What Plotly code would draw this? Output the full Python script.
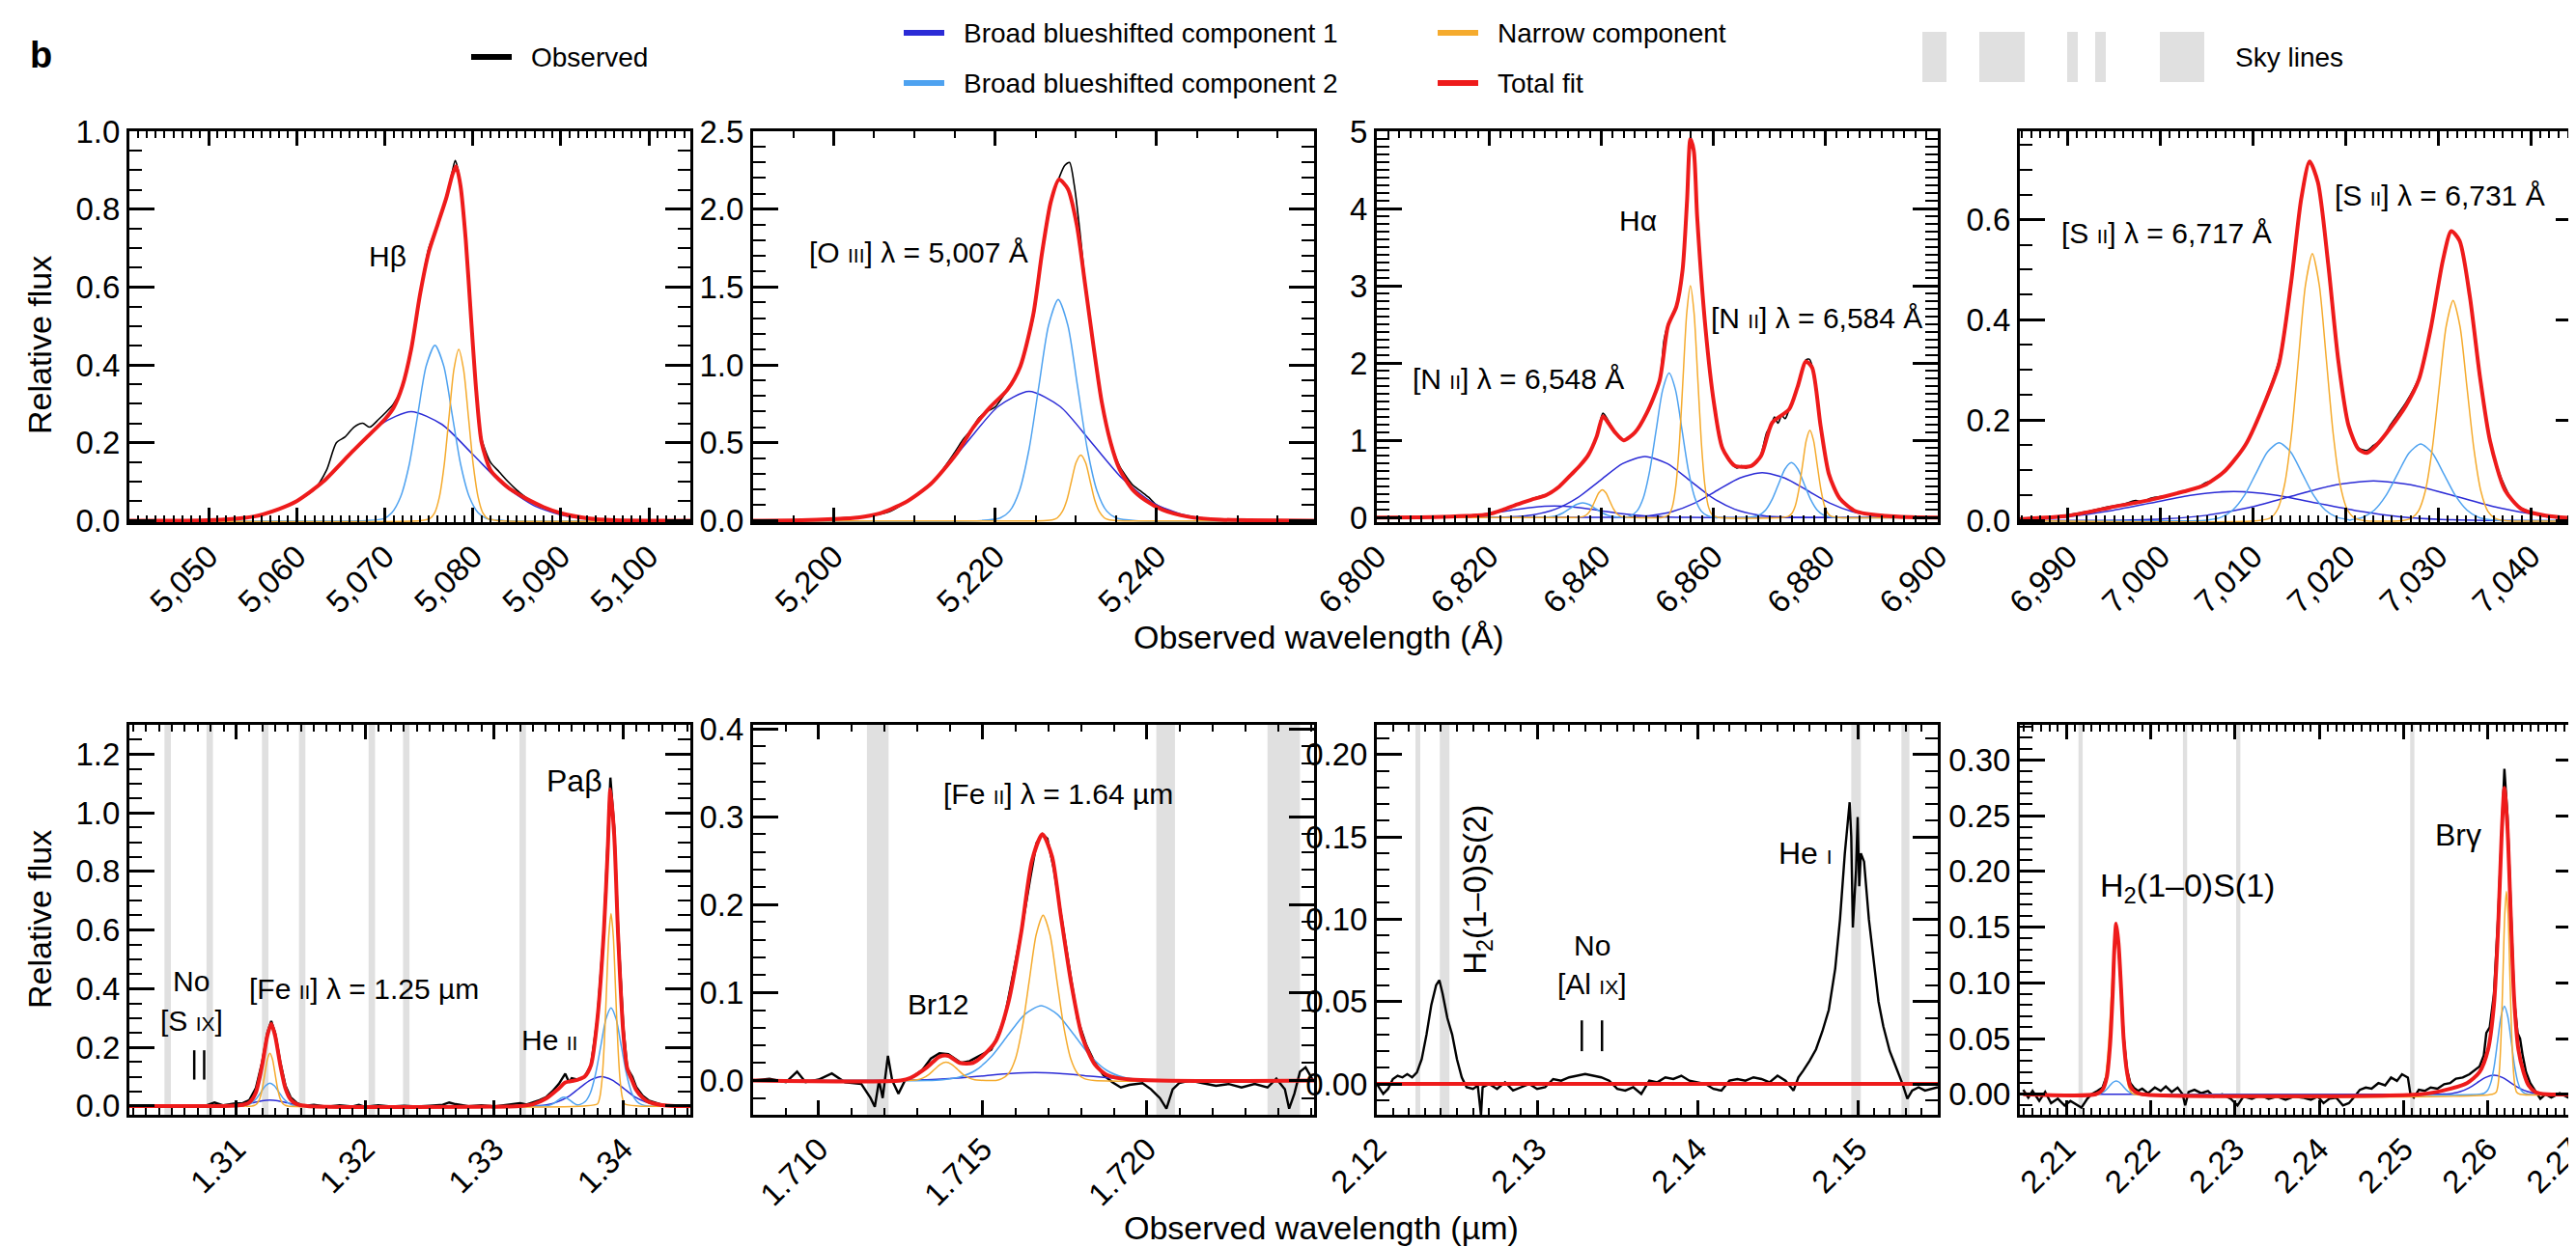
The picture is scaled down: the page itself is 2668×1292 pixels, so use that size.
import plotly.graph_objects as go

W, H = 2668, 1292
FONT = "Liberation Sans, Arial, Helvetica, sans-serif"
C_OBS = "#000000"
C_B1 = "#2b2bd6"
C_B2 = "#4ea2f0"
C_NAR = "#f5ab2e"
C_FIT = "#ee1b1b"
C_SKY = "#e0e0e0"

# ---------------- tick labels ----------------
p1_xticks = [5050, 5060, 5070, 5080, 5090, 5100]
p2_xticks = [5200, 5220, 5240]
p3_xticks = [6800, 6820, 6840, 6860, 6880, 6900]
p4_xticks = [6990, 7000, 7010, 7020, 7030, 7040]
p5_xticks = [1.31, 1.32, 1.33, 1.34]
p6_xticks = [1.710, 1.715, 1.720]
p7_xticks = [2.12, 2.13, 2.14, 2.15]
p8_xticks = [2.21, 2.22, 2.23, 2.24, 2.25, 2.26, 2.27]

# ---------------- Panel 1: H-beta ----------------
p1_obs_x = [5041, 5050, 5055, 5058, 5060, 5062, 5063.4, 5064.5, 5065.5, 5066.5, 5067.5, 5068.3, 5069.3, 5070.2, 5071, 5072, 5073, 5074, 5075, 5076, 5077, 5077.7, 5078, 5078.5, 5079.2, 5079.8, 5080.4, 5081, 5082, 5083, 5084, 5085, 5086, 5087, 5088, 5090, 5093, 5096, 5104.7]
p1_obs_y = [0, 0.002, 0.01, 0.03, 0.05, 0.08, 0.13, 0.2, 0.215, 0.24, 0.25, 0.24, 0.26, 0.28, 0.3, 0.345, 0.44, 0.58, 0.7, 0.76, 0.83, 0.9, 0.925, 0.88, 0.72, 0.52, 0.33, 0.21, 0.15, 0.125, 0.1, 0.078, 0.06, 0.045, 0.035, 0.02, 0.006, 0.001, 0]
p1_fit_x = [5041, 5050, 5055, 5058, 5060, 5063, 5066, 5068, 5070, 5071, 5072, 5073, 5074, 5075, 5076, 5077, 5077.7, 5078.1, 5078.6, 5079.2, 5079.8, 5080.4, 5081, 5082, 5083, 5084, 5085, 5086, 5088, 5090, 5093, 5096, 5104.7]
p1_fit_y = [0, 0.001, 0.01, 0.03, 0.05, 0.1, 0.17, 0.215, 0.26, 0.29, 0.345, 0.44, 0.58, 0.69, 0.76, 0.83, 0.89, 0.91, 0.86, 0.72, 0.52, 0.33, 0.2, 0.13, 0.105, 0.085, 0.07, 0.057, 0.035, 0.019, 0.006, 0.001, 0]
p1_b1_x = [5041, 5045, 5052, 5055.5, 5059, 5062.5, 5066, 5069.5, 5073, 5076.5, 5080, 5083.5, 5087, 5090.5, 5094, 5101, 5104.7]
p1_b1_y = [0, 0, 0.003, 0.012, 0.038, 0.091, 0.170, 0.247, 0.280, 0.247, 0.170, 0.091, 0.038, 0.012, 0.003, 0, 0]
p1_b2_x = [5041, 5067.9, 5069.9, 5070.8, 5071.8, 5072.8, 5073.75, 5074.7, 5075.7, 5076.7, 5077.65, 5078.6, 5079.6, 5080.6, 5081.55, 5083.5, 5104.7]
p1_b2_y = [0, 0, 0.005, 0.020, 0.061, 0.146, 0.273, 0.397, 0.45, 0.397, 0.273, 0.146, 0.061, 0.020, 0.005, 0, 0]
p1_n_x = [5041, 5074.0, 5075.1, 5075.65, 5076.2, 5076.75, 5077.3, 5077.85, 5078.4, 5078.95, 5079.5, 5080.05, 5080.6, 5081.15, 5081.7, 5082.8, 5104.7]
p1_n_y = [0, 0, 0.005, 0.019, 0.060, 0.143, 0.267, 0.388, 0.44, 0.388, 0.267, 0.143, 0.060, 0.019, 0.005, 0, 0]

# ---------------- Panel 2: [O III] 5007 ----------------
p2_obs_x = [5190, 5196, 5200, 5202, 5203.5, 5205, 5207, 5209, 5212, 5215, 5216, 5217, 5218, 5219, 5220, 5221, 5222, 5223.1, 5224.7, 5225.8, 5226.9, 5227.9, 5228.6, 5229.2, 5229.8, 5230.5, 5231.1, 5232.2, 5233.2, 5234.3, 5235.4, 5236, 5237, 5238, 5239, 5240, 5241, 5243, 5246, 5250, 5259.5]
p2_obs_y = [0, 0.003, 0.012, 0.02, 0.025, 0.035, 0.06, 0.12, 0.23, 0.44, 0.52, 0.58, 0.66, 0.7, 0.73, 0.8, 0.88, 0.99, 1.3, 1.72, 2.06, 2.2, 2.28, 2.3, 2.15, 1.85, 1.55, 1.12, 0.77, 0.51, 0.35, 0.3, 0.23, 0.19, 0.15, 0.1, 0.075, 0.035, 0.012, 0.004, 0]
p2_fit_x = [5190, 5196, 5200, 5203, 5205.6, 5208.8, 5212, 5215.2, 5217.3, 5219.4, 5221.5, 5223.1, 5224.7, 5225.8, 5226.9, 5227.9, 5229, 5230.1, 5231.1, 5232.2, 5233.2, 5234.3, 5235.4, 5237, 5238.6, 5240.7, 5243.9, 5248, 5259.5]
p2_fit_y = [0, 0.003, 0.01, 0.02, 0.045, 0.115, 0.235, 0.43, 0.6, 0.73, 0.84, 0.99, 1.32, 1.72, 2.05, 2.19, 2.13, 1.9, 1.53, 1.11, 0.76, 0.5, 0.33, 0.2, 0.13, 0.07, 0.025, 0.006, 0]
p2_b1_x = [5190, 5193.4, 5201.1, 5204.95, 5208.8, 5212.65, 5216.5, 5220.35, 5224.2, 5228.05, 5231.9, 5235.75, 5239.6, 5243.45, 5247.3, 5255, 5259.5]
p2_b1_y = [0, 0, 0.009, 0.036, 0.112, 0.270, 0.503, 0.732, 0.83, 0.732, 0.503, 0.270, 0.112, 0.036, 0.009, 0, 0]
p2_b2_x = [5190, 5218.2, 5220.6, 5221.8, 5223.0, 5224.2, 5225.4, 5226.6, 5227.8, 5229.0, 5230.2, 5231.4, 5232.6, 5233.8, 5235.0, 5237.4, 5259.5]
p2_b2_y = [0, 0, 0.016, 0.062, 0.192, 0.461, 0.861, 1.253, 1.42, 1.253, 0.861, 0.461, 0.192, 0.062, 0.016, 0, 0]
p2_n_x = [5190, 5226.0, 5227.15, 5227.7, 5228.3, 5228.9, 5229.45, 5230.0, 5230.6, 5231.2, 5231.75, 5232.3, 5232.9, 5233.5, 5234.05, 5235.2, 5259.5]
p2_n_y = [0, 0, 0.005, 0.018, 0.057, 0.136, 0.255, 0.371, 0.42, 0.371, 0.255, 0.136, 0.057, 0.018, 0.005, 0, 0]

# ---------------- Panel 3: H-alpha + [N II] ----------------
p3_obs_x = [6800, 6810, 6816, 6819.8, 6822.5, 6825, 6826.5, 6828, 6830.2, 6832.5, 6834.7, 6836.3, 6837.7, 6839.2, 6840.3, 6841.3, 6842.5, 6844, 6846, 6848.1, 6850.4, 6851.2, 6851.9, 6852.6, 6853.4, 6854.5, 6855.3, 6855.9, 6856.5, 6857.1, 6858.6, 6860.1, 6861.6, 6862.6, 6863.4, 6864.2, 6865, 6865.8, 6866.8, 6867.6, 6868.5, 6869.5, 6870.3, 6870.9, 6871.5, 6872.2, 6872.8, 6873.5, 6875, 6876.5, 6877.1, 6877.6, 6879.1, 6880.6, 6882.5, 6885.4, 6890.7, 6895, 6900]
p3_obs_y = [0, 0.005, 0.02, 0.04, 0.1, 0.17, 0.2, 0.25, 0.3, 0.4, 0.56, 0.68, 0.81, 1.05, 1.35, 1.25, 1.1, 1.0, 1.1, 1.35, 1.77, 2.3, 2.5, 2.62, 2.75, 3.2, 4.1, 4.9, 4.75, 3.9, 2.44, 1.5, 0.92, 0.75, 0.68, 0.64, 0.67, 0.64, 0.68, 0.7, 0.82, 1.1, 1.2, 1.3, 1.22, 1.32, 1.28, 1.4, 1.69, 2.04, 2.05, 1.96, 1.19, 0.56, 0.25, 0.08, 0.02, 0.005, 0]
p3_fit_x = [6800, 6810, 6816, 6819.8, 6822.5, 6825, 6827.5, 6830.2, 6832.5, 6834.7, 6836.3, 6837.7, 6839.2, 6840.3, 6841.3, 6842.5, 6844, 6846, 6848.1, 6850.4, 6851.9, 6853.4, 6854.5, 6855.3, 6855.9, 6856.5, 6857.1, 6858.6, 6860.1, 6861.6, 6863.8, 6866.8, 6868.5, 6870.5, 6873.5, 6875, 6876.5, 6877.6, 6879.1, 6880.6, 6882.5, 6885.4, 6890.7, 6895, 6900]
p3_fit_y = [0, 0.005, 0.02, 0.04, 0.1, 0.17, 0.23, 0.29, 0.4, 0.56, 0.68, 0.81, 1.05, 1.31, 1.22, 1.1, 1.0, 1.1, 1.35, 1.77, 2.48, 2.73, 3.2, 4.1, 4.9, 4.75, 3.9, 2.44, 1.48, 0.9, 0.67, 0.67, 0.8, 1.23, 1.4, 1.69, 2.02, 1.94, 1.19, 0.56, 0.25, 0.08, 0.02, 0.005, 0]
p3_n_x = [6800, 6835.0, 6836.3, 6836.95, 6837.6, 6838.25, 6838.9, 6839.55, 6840.2, 6840.85, 6841.5, 6842.15, 6842.8, 6843.45, 6844.1, 6845.4, 6850.8, 6852.0, 6852.65, 6853.3, 6853.95, 6854.6, 6855.25, 6855.9, 6856.55, 6857.2, 6857.85, 6858.5, 6859.15, 6859.8, 6861.0, 6872.1, 6873.3, 6873.95, 6874.6, 6875.25, 6875.9, 6876.55, 6877.2, 6877.85, 6878.5, 6879.15, 6879.8, 6880.45, 6881.1, 6882.4, 6900]
p3_n_y = [0, 0, 0.004, 0.016, 0.049, 0.117, 0.218, 0.318, 0.36, 0.318, 0.218, 0.117, 0.049, 0.016, 0.004, 0, 0, 0.033, 0.132, 0.406, 0.974, 1.82, 2.648, 3.0, 2.648, 1.82, 0.974, 0.406, 0.132, 0.033, 0, 0, 0.013, 0.050, 0.153, 0.367, 0.685, 0.997, 1.13, 0.997, 0.685, 0.367, 0.153, 0.050, 0.013, 0, 0]
p3_b2_x = [6800, 6828.6, 6829.8, 6830.95, 6832.1, 6833.25, 6834.4, 6835.55, 6836.7, 6837.85, 6839.0, 6840.15, 6841.3, 6842.45, 6843.6, 6844.4, 6845.2, 6846.35, 6847.5, 6848.65, 6849.8, 6850.95, 6852.1, 6853.25, 6854.4, 6855.55, 6856.7, 6857.85, 6859.0, 6860.2, 6865.8, 6867.0, 6868.15, 6869.3, 6870.45, 6871.6, 6872.75, 6873.9, 6875.05, 6876.2, 6877.35, 6878.5, 6879.65, 6880.8, 6882.0, 6900]
p3_b2_y = [0, 0, 0.002, 0.008, 0.026, 0.062, 0.115, 0.168, 0.19, 0.168, 0.115, 0.062, 0.026, 0.008, 0.002, 0.001, 0.021, 0.082, 0.253, 0.607, 1.134, 1.65, 1.87, 1.65, 1.134, 0.607, 0.253, 0.082, 0.021, 0, 0, 0.008, 0.031, 0.096, 0.231, 0.431, 0.627, 0.71, 0.627, 0.431, 0.231, 0.096, 0.031, 0.008, 0, 0]
p3_b1a_x = [6800, 6807.7, 6811.7, 6815.7, 6819.7, 6823.7, 6827.7, 6831.7, 6835.7, 6839.7, 6843.7, 6847.7, 6851.7, 6855.7, 6860, 6900]
p3_b1a_y = [0.001, 0.0017, 0.0066, 0.020, 0.049, 0.091, 0.132, 0.15, 0.132, 0.091, 0.049, 0.020, 0.0066, 0.0017, 0, 0]
p3_b1b_x = [6800, 6815, 6823.8, 6827.8, 6831.8, 6835.8, 6839.8, 6843.8, 6847.8, 6851.8, 6855.8, 6859.8, 6863.8, 6867.8, 6871.8, 6880, 6900]
p3_b1b_y = [0, 0.001, 0.009, 0.035, 0.107, 0.257, 0.479, 0.697, 0.79, 0.697, 0.479, 0.257, 0.107, 0.035, 0.009, 0, 0]
p3_b1c_x = [6800, 6836, 6844.7, 6848.7, 6852.7, 6856.7, 6860.7, 6864.7, 6868.7, 6872.7, 6876.7, 6880.7, 6884.7, 6888.7, 6892.7, 6900]
p3_b1c_y = [0, 0.001, 0.0064, 0.025, 0.078, 0.188, 0.352, 0.512, 0.58, 0.512, 0.352, 0.188, 0.078, 0.025, 0.0064, 0.001]

# ---------------- Panel 4: [S II] doublet ----------------
p4_obs_x = [6984.8, 6987, 6990.1, 6992, 6994.5, 6996, 6997.3, 6998, 6999, 7000, 7001, 7002.5, 7004, 7004.8, 7005.5, 7007, 7009.2, 7011.4, 7012.8, 7014.1, 7015.2, 7016.1, 7017, 7018.1, 7019.2, 7020.3, 7021.4, 7022.3, 7023, 7023.4, 7024, 7024.8, 7026.5, 7027.9, 7029.2, 7030.5, 7031.4, 7032.3, 7033.4, 7034.5, 7035.6, 7036.5, 7037.2, 7038, 7039, 7041.6, 7045.4]
p4_obs_y = [0.004, 0.005, 0.012, 0.018, 0.028, 0.033, 0.04, 0.038, 0.045, 0.048, 0.05, 0.058, 0.066, 0.075, 0.08, 0.1, 0.152, 0.245, 0.32, 0.474, 0.642, 0.716, 0.674, 0.513, 0.319, 0.19, 0.145, 0.14, 0.15, 0.155, 0.165, 0.19, 0.235, 0.285, 0.384, 0.519, 0.577, 0.558, 0.448, 0.287, 0.158, 0.1, 0.068, 0.04, 0.025, 0.008, 0.004]
p4_fit_x = [6984.8, 6990.1, 6994.5, 6999, 7002.5, 7004.8, 7007, 7009.2, 7011.4, 7012.8, 7014.1, 7015.2, 7016.1, 7017, 7018.1, 7019.2, 7020.3, 7021.4, 7022.3, 7023.4, 7024.8, 7026.5, 7027.9, 7029.2, 7030.5, 7031.4, 7032.3, 7033.4, 7034.5, 7035.6, 7037.2, 7039, 7041.6, 7045.4]
p4_fit_y = [0.003, 0.01, 0.026, 0.042, 0.058, 0.071, 0.1, 0.152, 0.242, 0.313, 0.474, 0.642, 0.716, 0.674, 0.513, 0.319, 0.19, 0.142, 0.135, 0.152, 0.184, 0.229, 0.281, 0.384, 0.519, 0.577, 0.558, 0.448, 0.287, 0.158, 0.061, 0.023, 0.01, 0.004]
p4_n_x = [6984.8, 7010.5, 7011.9, 7012.65, 7013.4, 7014.15, 7014.9, 7015.65, 7016.4, 7017.15, 7017.9, 7018.65, 7019.4, 7020.15, 7020.9, 7022.0, 7026.0, 7027.1, 7027.85, 7028.6, 7029.35, 7030.1, 7030.85, 7031.6, 7032.35, 7033.1, 7033.85, 7034.6, 7035.35, 7036.1, 7037.2, 7045.4]
p4_n_y = [0, 0, 0.006, 0.023, 0.072, 0.173, 0.323, 0.469, 0.532, 0.469, 0.323, 0.173, 0.072, 0.023, 0.006, 0, 0, 0.005, 0.019, 0.059, 0.143, 0.266, 0.387, 0.439, 0.387, 0.266, 0.143, 0.059, 0.019, 0.005, 0, 0]
p4_b2_x = [6984.8, 7004.0, 7005.3, 7006.55, 7007.8, 7009.05, 7010.3, 7011.55, 7012.8, 7014.05, 7015.3, 7016.55, 7017.8, 7019.05, 7020.3, 7020.45, 7020.6, 7021.85, 7023.1, 7024.35, 7025.6, 7026.85, 7028.1, 7029.35, 7030.6, 7031.85, 7033.1, 7034.35, 7035.6, 7037.0, 7045.4]
p4_b2_y = [0, 0, 0.0017, 0.0068, 0.021, 0.050, 0.094, 0.137, 0.155, 0.137, 0.094, 0.050, 0.021, 0.0068, 0.0017, 0.001, 0.0017, 0.0067, 0.021, 0.050, 0.093, 0.135, 0.153, 0.135, 0.093, 0.050, 0.021, 0.0067, 0.0017, 0, 0]
p4_b1a_x = [6980.9, 6985.4, 6989.9, 6994.4, 6998.9, 7003.4, 7007.9, 7012.4, 7016.9, 7021.4, 7025.9, 7030.4, 7034.9, 7040, 7045.4]
p4_b1a_y = [0.0006, 0.0025, 0.0078, 0.019, 0.035, 0.051, 0.058, 0.051, 0.035, 0.019, 0.0078, 0.0025, 0.0006, 0, 0]
p4_b1b_x = [6984.8, 6991.5, 6996, 7000.5, 7005, 7009.5, 7014, 7018.5, 7023, 7027.5, 7032, 7036.5, 7041, 7045.5]
p4_b1b_y = [0, 0.0003, 0.0009, 0.0035, 0.0107, 0.0257, 0.0479, 0.0697, 0.079, 0.0697, 0.0479, 0.0257, 0.0107, 0.0035]

# ---------------- Panel 5: [Fe II] 1.25 um, Pa-beta ----------------
p5_obs_x = [1.3017, 1.3025, 1.3035, 1.3045, 1.3055, 1.3065, 1.3075, 1.3083, 1.309, 1.3098, 1.3105, 1.311, 1.3115, 1.312, 1.3124, 1.3127, 1.313, 1.3134, 1.3138, 1.3142, 1.3147, 1.3152, 1.316, 1.317, 1.318, 1.319, 1.3195, 1.32, 1.321, 1.322, 1.323, 1.324, 1.325, 1.326, 1.3265, 1.327, 1.328, 1.329, 1.33, 1.331, 1.332, 1.3325, 1.333, 1.3335, 1.334, 1.3345, 1.335, 1.3355, 1.3358, 1.336, 1.3365, 1.337, 1.3375, 1.338, 1.3385, 1.3388, 1.339, 1.3393, 1.3396, 1.34, 1.3403, 1.3407, 1.341, 1.3415, 1.342, 1.343, 1.344, 1.3452]
p5_obs_y = [0.0, 0.002, -0.003, 0.001, -0.002, 0.002, -0.001, 0.012, 0.002, 0.008, 0.01, 0.02, 0.06, 0.15, 0.25, 0.29, 0.25, 0.15, 0.07, 0.03, 0.01, 0.0, 0.004, -0.003, 0.002, -0.002, 0.004, -0.003, 0.002, -0.002, 0.001, -0.002, 0.001, 0.004, 0.012, 0.006, -0.001, 0.002, -0.002, 0.003, 0.01, 0.005, 0.012, 0.02, 0.03, 0.05, 0.075, 0.11, 0.08, 0.095, 0.09, 0.1, 0.14, 0.3, 0.6, 0.9, 1.12, 0.95, 0.6, 0.27, 0.13, 0.1, 0.065, 0.035, 0.018, 0.004, 0.0, 0.0]
p5_fit_x = [1.3017, 1.309, 1.3105, 1.311, 1.3115, 1.312, 1.3124, 1.3127, 1.313, 1.3134, 1.3138, 1.3142, 1.3147, 1.3155, 1.332, 1.333, 1.334, 1.335, 1.3355, 1.336, 1.3365, 1.337, 1.3375, 1.338, 1.3385, 1.3388, 1.339, 1.3393, 1.3396, 1.34, 1.3403, 1.3407, 1.341, 1.3415, 1.342, 1.343, 1.344, 1.3452]
p5_fit_y = [0, 0, 0.004, 0.012, 0.045, 0.14, 0.24, 0.28, 0.24, 0.14, 0.06, 0.022, 0.006, 0, 0, 0.006, 0.025, 0.06, 0.08, 0.085, 0.09, 0.1, 0.14, 0.3, 0.6, 0.88, 1.08, 0.92, 0.58, 0.25, 0.13, 0.085, 0.055, 0.028, 0.013, 0.003, 0, 0]
p5_n_x = [1.3017, 1.3112, 1.3114, 1.3116, 1.3118, 1.312, 1.3122, 1.3124, 1.3126, 1.3128, 1.313, 1.3132, 1.3134, 1.3136, 1.3138, 1.314, 1.3369, 1.338, 1.338175, 1.33835, 1.338525, 1.3387, 1.338875, 1.33905, 1.339225, 1.3394, 1.339575, 1.33975, 1.339925, 1.3401, 1.3412, 1.3452]
p5_n_y = [0, 0, 0.002, 0.008, 0.024, 0.058, 0.109, 0.159, 0.18, 0.159, 0.109, 0.058, 0.024, 0.008, 0.002, 0, 0, 0.007, 0.029, 0.089, 0.213, 0.398, 0.579, 0.656, 0.579, 0.398, 0.213, 0.089, 0.029, 0.007, 0, 0]
p5_b2_x = [1.3017, 1.3102, 1.3105, 1.31085, 1.3112, 1.31155, 1.3119, 1.31225, 1.3126, 1.31295, 1.3133, 1.31365, 1.314, 1.31435, 1.3147, 1.315, 1.3335, 1.3339, 1.33415, 1.3344, 1.33465, 1.3349, 1.33515, 1.3354, 1.33565, 1.3359, 1.33615, 1.3364, 1.33665, 1.33705, 1.33745, 1.33785, 1.33825, 1.33865, 1.33905, 1.33945, 1.33985, 1.34025, 1.34065, 1.34105, 1.34145, 1.342, 1.3452]
p5_b2_y = [0, 0, 0.001, 0.003, 0.011, 0.025, 0.047, 0.069, 0.078, 0.069, 0.047, 0.025, 0.011, 0.003, 0.001, 0, 0, 0.0003, 0.0013, 0.004, 0.0097, 0.018, 0.026, 0.03, 0.026, 0.018, 0.0097, 0.004, 0.005, 0.015, 0.045, 0.109, 0.203, 0.296, 0.335, 0.296, 0.203, 0.109, 0.045, 0.015, 0.004, 0, 0]
p5_b1_x = [1.3017, 1.3085, 1.3090, 1.3096, 1.3102, 1.3108, 1.3114, 1.312, 1.3126, 1.3132, 1.3138, 1.3144, 1.315, 1.3156, 1.3162, 1.3168, 1.3325, 1.3332, 1.33405, 1.3349, 1.33575, 1.3366, 1.33745, 1.3383, 1.33915, 1.34, 1.34085, 1.3417, 1.34255, 1.3434, 1.344, 1.3452]
p5_b1_y = [0, 0, 0.0002, 0.0009, 0.0027, 0.0065, 0.0121, 0.0177, 0.02, 0.0177, 0.0121, 0.0065, 0.0027, 0.0009, 0.0002, 0, 0, 0.001, 0.004, 0.014, 0.032, 0.061, 0.088, 0.1, 0.088, 0.061, 0.032, 0.014, 0.004, 0.001, 0, 0]
p5_sky_lo = [1.30442, 1.30768, 1.31198, 1.31485, 1.32025, 1.32292, 1.33195]
p5_sky_hi = [1.30492, 1.30818, 1.31248, 1.31535, 1.32075, 1.32342, 1.33245]
p5_six_bar_x = [1.30673, 1.3075]
p5_six_bar_y = [0.09, 0.19]

# ---------------- Panel 6: [Fe II] 1.64 um ----------------
p6_obs_x = [1.708, 1.7085, 1.709, 1.70934, 1.7096, 1.71, 1.7104, 1.7108, 1.7113, 1.71158, 1.71171, 1.71184, 1.71195, 1.71211, 1.71224, 1.71243, 1.71263, 1.71289, 1.71316, 1.71342, 1.71368, 1.71395, 1.71434, 1.7146, 1.715, 1.71526, 1.71539, 1.71566, 1.71592, 1.71618, 1.71645, 1.71664, 1.71682, 1.71697, 1.71717, 1.71737, 1.71763, 1.71789, 1.71816, 1.71842, 1.71868, 1.71895, 1.71921, 1.71947, 1.71987, 1.72013, 1.7204, 1.7206, 1.72079, 1.72099, 1.72132, 1.72171, 1.72211, 1.7225, 1.72289, 1.72329, 1.72368, 1.72395, 1.72421, 1.72434, 1.7245, 1.72467, 1.72484, 1.72507]
p6_obs_y = [0, 0.002, -0.002, 0.01, -0.002, 0.001, 0.008, -0.002, -0.004, -0.02, -0.03, 0.0, -0.02, 0.028, 0.0, -0.015, 0.0, 0.005, 0.012, 0.025, 0.031, 0.03, 0.02, 0.022, 0.03, 0.035, 0.045, 0.07, 0.12, 0.17, 0.23, 0.27, 0.28, 0.275, 0.24, 0.19, 0.13, 0.07, 0.04, 0.02, 0.006, -0.002, -0.008, -0.005, -0.003, -0.01, -0.02, -0.032, -0.01, -0.003, 0.0, -0.003, -0.006, -0.004, -0.008, -0.004, -0.008, 0.002, -0.01, -0.032, -0.015, 0.01, 0.015, 0.0]
p6_fit_x = [1.708, 1.7125, 1.7128, 1.7133, 1.71368, 1.71395, 1.7143, 1.7147, 1.715, 1.7154, 1.71579, 1.71618, 1.7165, 1.71682, 1.71711, 1.71737, 1.7177, 1.71803, 1.71842, 1.7188, 1.7195, 1.7251]
p6_fit_y = [0, 0, 0.003, 0.015, 0.027, 0.028, 0.02, 0.02, 0.028, 0.045, 0.09, 0.17, 0.25, 0.28, 0.255, 0.19, 0.11, 0.05, 0.018, 0.006, 0.001, 0]
p6_n_x = [1.708, 1.7126, 1.71283, 1.713005, 1.71318, 1.713355, 1.71353, 1.713705, 1.71388, 1.714055, 1.71423, 1.714405, 1.71458, 1.714755, 1.71493, 1.7151, 1.7154, 1.71558, 1.71579, 1.716, 1.71621, 1.71642, 1.71663, 1.71684, 1.71705, 1.71726, 1.71747, 1.71768, 1.71789, 1.7181, 1.7184, 1.7251]
p6_n_y = [0, 0, 0.0002, 0.0009, 0.0028, 0.0067, 0.0126, 0.0183, 0.0207, 0.0183, 0.0126, 0.0067, 0.0028, 0.0009, 0.0002, 0, 0, 0.002, 0.008, 0.025, 0.061, 0.114, 0.166, 0.188, 0.166, 0.114, 0.061, 0.025, 0.008, 0.002, 0, 0]
p6_b2_x = [1.708, 1.7133, 1.71378, 1.71428, 1.71478, 1.71528, 1.71578, 1.71628, 1.71678, 1.71728, 1.71778, 1.71828, 1.71878, 1.71928, 1.71978, 1.7203, 1.7251]
p6_b2_y = [0, 0, 0.0009, 0.0037, 0.0115, 0.028, 0.052, 0.075, 0.085, 0.075, 0.052, 0.028, 0.0115, 0.0037, 0.0009, 0, 0]
p6_b1_x = [1.708, 1.7121, 1.71285, 1.7136, 1.71435, 1.7151, 1.71585, 1.7166, 1.71735, 1.7181, 1.71885, 1.7196, 1.72035, 1.7211, 1.7251]
p6_b1_y = [0, 0.0001, 0.0004, 0.0012, 0.0029, 0.0055, 0.0079, 0.009, 0.0079, 0.0055, 0.0029, 0.0012, 0.0004, 0.0001, 0]
p6_sky_lo = [1.71147, 1.72029, 1.72368]
p6_sky_hi = [1.71213, 1.72086, 1.72467]

# ---------------- Panel 7: H2 S(2), He I ----------------
p7_obs_x = [2.12, 2.1204, 2.1207, 2.121, 2.1213, 2.1216, 2.1219, 2.1222, 2.1225, 2.1228,
            2.1231, 2.1234, 2.1237, 2.1239, 2.1241, 2.1244, 2.1247, 2.125, 2.1253, 2.1256,
            2.126, 2.1263, 2.1265, 2.1266, 2.127, 2.1275, 2.128, 2.1285, 2.129, 2.1295,
            2.13, 2.1305, 2.131, 2.1315, 2.132, 2.1325, 2.133, 2.1335, 2.134, 2.1345,
            2.135, 2.1355, 2.136, 2.1365, 2.137, 2.1375, 2.138, 2.1385, 2.139, 2.1395,
            2.14, 2.1405, 2.141, 2.1415, 2.142, 2.1425, 2.143, 2.1435, 2.144, 2.1445,
            2.145, 2.1455, 2.146, 2.1463, 2.1466, 2.147, 2.1474, 2.1478, 2.1482, 2.1486,
            2.1489, 2.1492, 2.1495, 2.1496, 2.1497, 2.1499, 2.15, 2.1501, 2.1502, 2.1504,
            2.1507, 2.151, 2.1513, 2.1516, 2.152, 2.1524, 2.1528, 2.1531, 2.1534, 2.1538,
            2.1542, 2.155]
p7_obs_y = [0.0, -0.006, -0.003, 0.003, 0.005, 0.004, 0.006, 0.004, 0.007, 0.015,
            0.03, 0.048, 0.06, 0.063, 0.055, 0.04, 0.03, 0.015, 0.004, -0.002,
            -0.003, -0.001, -0.019, -0.002, 0.0, -0.003, 0.001, -0.004, -0.002, 0.0,
            -0.003, -0.002, 0.003, 0.002, 0.004, 0.005, 0.006, 0.005, 0.004, 0.002,
            -0.003, -0.004, -0.002, -0.006, 0.002, 0.001, 0.004, 0.003, 0.005, 0.002,
            0.001, 0.0, -0.003, -0.004, 0.002, 0.003, 0.002, 0.004, 0.003, 0.001,
            0.005, 0.002, -0.004, 0.004, 0.008, 0.014, 0.021, 0.032, 0.045, 0.07,
            0.1, 0.14, 0.171, 0.15, 0.095, 0.13, 0.162, 0.12, 0.14, 0.135,
            0.1, 0.075, 0.05, 0.035, 0.02, 0.01, 0.0, -0.009, -0.004, -0.002,
            -0.004, -0.002]
p7_fit_x = [2.12, 2.155]
p7_fit_y = [0, 0]
p7_sky_lo = [2.12241, 2.12393, 2.1496, 2.15273]
p7_sky_hi = [2.12271, 2.12453, 2.1502, 2.15323]
p7_alix_bar_x = [2.13279, 2.13405]
p7_alix_bar_y = [0.0199, 0.0386]

# ---------------- Panel 8: H2 S(1), Br-gamma ----------------
p8_obs_x = [2.2049, 2.2055, 2.206, 2.2068, 2.2075, 2.2082, 2.209, 2.2098, 2.2105, 2.2112,
            2.2118, 2.2125, 2.213, 2.2137, 2.2143, 2.2148, 2.2152, 2.2155, 2.2157, 2.21592,
            2.2162, 2.2165, 2.2168, 2.2172, 2.2176, 2.218, 2.2185, 2.219, 2.2197, 2.2205,
            2.2212, 2.2218, 2.2225, 2.2232, 2.2238, 2.2241, 2.2245, 2.2252, 2.226, 2.2268,
            2.2275, 2.2285, 2.2295, 2.2303, 2.231, 2.232, 2.233, 2.234, 2.235, 2.236,
            2.237, 2.238, 2.239, 2.2398, 2.2405, 2.2412, 2.242, 2.2428, 2.2435, 2.2442,
            2.2448, 2.2455, 2.2462, 2.247, 2.2478, 2.2485, 2.2492, 2.2498, 2.2505, 2.2508,
            2.2512, 2.2518, 2.2525, 2.2532, 2.254, 2.2548, 2.2555, 2.2562, 2.257, 2.2578,
            2.2585, 2.259, 2.2595, 2.2598, 2.2602, 2.2607, 2.2612, 2.2616, 2.26194, 2.2623,
            2.2627, 2.2631, 2.2635, 2.2638, 2.2641, 2.2645, 2.265, 2.2656, 2.2662, 2.2668,
            2.2675, 2.2685, 2.2695, 2.2705, 2.2711]
p8_obs_y = [0.004, -0.003, 0.003, -0.006, 0.002, -0.008, -0.004, -0.01, -0.006, -0.009,
            -0.012, -0.004, 0.0, 0.003, 0.006, 0.017, 0.045, 0.09, 0.13, 0.152,
            0.135, 0.095, 0.052, 0.022, 0.01, 0.006, 0.003, 0.005, 0.001, 0.006,
            0.003, 0.007, 0.002, 0.006, 0.0, -0.01, 0.002, 0.004, 0.001, 0.003,
            -0.002, 0.0, -0.004, -0.01, -0.002, -0.004, -0.001, -0.004, -0.002, -0.005,
            -0.002, -0.003, -0.005, -0.002, -0.008, -0.004, -0.003, -0.01, -0.008, -0.002,
            0.004, 0.006, 0.005, 0.01, 0.008, 0.015, 0.012, 0.018, 0.015, 0.0,
            -0.003, 0.004, 0.003, 0.006, 0.005, 0.009, 0.01, 0.014, 0.015, 0.018,
            0.022, 0.025, 0.035, 0.055, 0.06, 0.09, 0.16, 0.24, 0.292, 0.25,
            0.16, 0.085, 0.055, 0.05, 0.035, 0.02, 0.01, 0.003, -0.004, 0.0,
            -0.003, 0.001, -0.003, 0.002, 0.0]
p8_fit_x = [2.2049, 2.2135, 2.2143, 2.2148, 2.2152, 2.2155, 2.2157, 2.21592, 2.2162, 2.2165, 2.2168, 2.2172, 2.2176, 2.2182, 2.219, 2.252, 2.255, 2.2575, 2.259, 2.26, 2.2607, 2.2612, 2.2616, 2.26194, 2.2623, 2.2627, 2.2631, 2.2636, 2.2642, 2.2648, 2.2656, 2.267, 2.2711]
p8_fit_y = [0, 0, 0.004, 0.015, 0.045, 0.09, 0.13, 0.153, 0.135, 0.095, 0.05, 0.02, 0.007, 0.002, 0, 0, 0.004, 0.01, 0.02, 0.04, 0.08, 0.15, 0.23, 0.275, 0.24, 0.16, 0.085, 0.04, 0.02, 0.008, 0.002, 0, 0]
p8_n_x = [2.2049, 2.2138, 2.21412, 2.21442, 2.21472, 2.21502, 2.21532, 2.21562, 2.21592, 2.21622, 2.21652, 2.21682, 2.21712, 2.21742, 2.21772, 2.2181, 2.2605, 2.26098, 2.26118, 2.26138, 2.26158, 2.26178, 2.26198, 2.26218, 2.26238, 2.26258, 2.26278, 2.26298, 2.26318, 2.26338, 2.2638, 2.2711]
p8_n_y = [0, 0, 0.0016, 0.006, 0.019, 0.045, 0.085, 0.124, 0.14, 0.124, 0.085, 0.045, 0.019, 0.006, 0.0016, 0, 0, 0.002, 0.008, 0.025, 0.059, 0.110, 0.161, 0.182, 0.161, 0.110, 0.059, 0.025, 0.008, 0.002, 0, 0]
p8_b2_x = [2.2049, 2.2131, 2.21352, 2.21392, 2.21432, 2.21472, 2.21512, 2.21552, 2.21592, 2.21632, 2.21672, 2.21712, 2.21752, 2.21792, 2.21832, 2.2187, 2.259, 2.25954, 2.25994, 2.26034, 2.26074, 2.26114, 2.26154, 2.26194, 2.26234, 2.26274, 2.26314, 2.26354, 2.26394, 2.26434, 2.2648, 2.2711]
p8_b2_y = [0, 0, 0.0001, 0.0005, 0.0016, 0.0039, 0.0073, 0.0106, 0.012, 0.0106, 0.0073, 0.0039, 0.0016, 0.0005, 0.0001, 0, 0, 0.0009, 0.0035, 0.0107, 0.0257, 0.0479, 0.0697, 0.079, 0.0697, 0.0479, 0.0257, 0.0107, 0.0035, 0.0009, 0, 0]
p8_b1_x = [2.2049, 2.2537, 2.2547, 2.2557, 2.2567, 2.2577, 2.2587, 2.2597, 2.2607, 2.2617, 2.2627, 2.2637, 2.2647, 2.2657, 2.2667, 2.2677, 2.2711]
p8_b1_y = [0, 0, 0.0002, 0.0007, 0.0023, 0.0055, 0.0103, 0.015, 0.017, 0.015, 0.0103, 0.0055, 0.0023, 0.0007, 0.0002, 0, 0]
p8_sky_lo = [2.21145, 2.22383, 2.23014, 2.25077]
p8_sky_hi = [2.21195, 2.22433, 2.23064, 2.25127]

# ---------------- layout geometry (pixels) ----------------
COLS = [(126, 707), (772, 1353), (1418, 1999), (2084, 2665)]
ROWS = [(128, 533), (743, 1147)]
NOTE_SIZE = 30
SMALL = "<span style='font-size:21px'>{}</span>"

panels = [
    dict(n=1, col=0, row=0, xr=[5041, 5104.7], yr=[-0.004, 1.0], xt=p1_xticks, xfmt=",d", xmin=1,
         ydt=0.2, yfmt=".1f", ymin=0.05, obs=(p1_obs_x, p1_obs_y), fit=(p1_fit_x, p1_fit_y),
         comps=[(C_B1, p1_b1_x, p1_b1_y), (C_B2, p1_b2_x, p1_b2_y), (C_NAR, p1_n_x, p1_n_y)],
         sky=None, top=True,
         notes=[("H\u03b2", 5070.3, 0.68, 0, NOTE_SIZE)]),
    dict(n=2, col=1, row=0, xr=[5190, 5259.5], yr=[-0.01, 2.5], xt=p2_xticks, xfmt=",d", xmin=5,
         ydt=0.5, yfmt=".1f", ymin=0.1, obs=(p2_obs_x, p2_obs_y), fit=(p2_fit_x, p2_fit_y),
         comps=[(C_B1, p2_b1_x, p2_b1_y), (C_B2, p2_b2_x, p2_b2_y), (C_NAR, p2_n_x, p2_n_y)],
         sky=None, top=True,
         notes=[("[O " + SMALL.format("III") + "] \u03bb = 5,007 \u00c5", 5210.5, 1.72, 0, NOTE_SIZE)]),
    dict(n=3, col=2, row=0, xr=[6800, 6900], yr=[-0.06, 5.0], xt=p3_xticks, xfmt=",d", xmin=2,
         ydt=1, yfmt="d", ymin=0.1, obs=(p3_obs_x, p3_obs_y), fit=(p3_fit_x, p3_fit_y),
         comps=[(C_B1, p3_b1a_x, p3_b1a_y), (C_B1, p3_b1b_x, p3_b1b_y), (C_B1, p3_b1c_x, p3_b1c_y),
                (C_B2, p3_b2_x, p3_b2_y), (C_NAR, p3_n_x, p3_n_y)],
         sky=None, top=True,
         notes=[("H\u03b1", 6846.6, 3.85, 0, NOTE_SIZE),
                ("[N " + SMALL.format("II") + "] \u03bb = 6,548 \u00c5", 6825.2, 1.79, 0, NOTE_SIZE),
                ("[N " + SMALL.format("II") + "] \u03bb = 6,584 \u00c5", 6878.4, 2.58, 0, NOTE_SIZE)]),
    dict(n=4, col=3, row=0, xr=[6984.8, 7045.4], yr=[-0.003, 0.776], xt=p4_xticks, xfmt=",d", xmin=1,
         ydt=0.2, yfmt=".1f", ymin=0.05, obs=(p4_obs_x, p4_obs_y), fit=(p4_fit_x, p4_fit_y),
         comps=[(C_B1, p4_b1a_x, p4_b1a_y), (C_B1, p4_b1b_x, p4_b1b_y), (C_B2, p4_b2_x, p4_b2_y),
                (C_NAR, p4_n_x, p4_n_y)],
         sky=None, top=True,
         notes=[("[S " + SMALL.format("II") + "] \u03bb = 6,717 \u00c5", 7000.7, 0.574, 0, NOTE_SIZE),
                ("[S " + SMALL.format("II") + "] \u03bb = 6,731 \u00c5", 7030.2, 0.648, 0, NOTE_SIZE)]),
    dict(n=5, col=0, row=1, xr=[1.3017, 1.3452], yr=[-0.03, 1.3], xt=p5_xticks, xfmt=".2f", xmin=0.001,
         ydt=0.2, yfmt=".1f", ymin=0.05, obs=(p5_obs_x, p5_obs_y), fit=(p5_fit_x, p5_fit_y),
         comps=[(C_B1, p5_b1_x, p5_b1_y), (C_B2, p5_b2_x, p5_b2_y), (C_NAR, p5_n_x, p5_n_y)],
         sky=(p5_sky_lo, p5_sky_hi), top=False,
         notes=[("No", 1.3065, 0.425, 0, NOTE_SIZE), ("[S " + SMALL.format("IX") + "]", 1.3065, 0.29, 0, NOTE_SIZE),
                ("[Fe " + SMALL.format("II") + "] \u03bb = 1.25 \u00b5m", 1.3199, 0.40, 0, NOTE_SIZE),
                ("He " + SMALL.format("II"), 1.3343, 0.225, 0, NOTE_SIZE), ("Pa\u03b2", 1.3362, 1.11, 0, 32)],
         bars=(p5_six_bar_x, p5_six_bar_y)),
    dict(n=6, col=1, row=1, xr=[1.708, 1.7251], yr=[-0.039, 0.4044], xt=p6_xticks, xfmt=".3f", xmin=0.001,
         ydt=0.1, yfmt=".1f", ymin=0.02, obs=(p6_obs_x, p6_obs_y), fit=(p6_fit_x, p6_fit_y),
         comps=[(C_B1, p6_b1_x, p6_b1_y), (C_B2, p6_b2_x, p6_b2_y), (C_NAR, p6_n_x, p6_n_y)],
         sky=(p6_sky_lo, p6_sky_hi), top=False,
         notes=[("[Fe " + SMALL.format("II") + "] \u03bb = 1.64 \u00b5m", 1.7173, 0.326, 0, NOTE_SIZE),
                ("Br12", 1.71364, 0.087, 0, NOTE_SIZE)]),
    dict(n=7, col=2, row=1, xr=[2.12, 2.155], yr=[-0.0187, 0.218], xt=p7_xticks, xfmt=".2f", xmin=0.001,
         ydt=0.05, yfmt=".2f", ymin=0.01, obs=(p7_obs_x, p7_obs_y), fit=(p7_fit_x, p7_fit_y),
         comps=[], sky=(p7_sky_lo, p7_sky_hi), top=False,
         notes=[("H<sub>2</sub>(1\u20130)S(2)", 2.12627, 0.118, -90, 33), ("No", 2.13345, 0.0839, 0, NOTE_SIZE),
                ("[Al " + SMALL.format("IX") + "]", 2.13345, 0.0607, 0, NOTE_SIZE),
                ("He " + SMALL.format("I"), 2.14676, 0.14, 0, 32)],
         bars=(p7_alix_bar_x, p7_alix_bar_y)),
    dict(n=8, col=3, row=1, xr=[2.2045, 2.271], yr=[-0.0184, 0.3314], xt=p8_xticks, xfmt=".2f", xmin=0.001,
         ydt=0.05, yfmt=".2f", ymin=0.01, obs=(p8_obs_x, p8_obs_y), fit=(p8_fit_x, p8_fit_y),
         comps=[(C_B1, p8_b1_x, p8_b1_y), (C_B2, p8_b2_x, p8_b2_y), (C_NAR, p8_n_x, p8_n_y)],
         sky=(p8_sky_lo, p8_sky_hi), top=False,
         notes=[("H<sub>2</sub>(1\u20130)S(1)", 2.22432, 0.1856, 0, 34), ("Br\u03b3", 2.25645, 0.233, 0, 32)]),
]


def check(name, xs, ys):
    if len(xs) != len(ys):
        raise ValueError(f"length mismatch in {name}: {len(xs)} vs {len(ys)}")


fig = go.Figure()
shapes = []
annotations = []
layout_axes = {}


def refs(n):
    return ("x" if n == 1 else f"x{n}"), ("y" if n == 1 else f"y{n}")


def line_trace(n, xs, ys, color, width, spline):
    xr, yr = refs(n)
    ln = dict(color=color, width=width)
    if spline:
        ln["shape"] = "spline"
        ln["smoothing"] = 0.7
    return go.Scatter(x=xs, y=ys, mode="lines", line=ln, xaxis=xr, yaxis=yr,
                      showlegend=False, hoverinfo="skip")


for p in panels:
    n = p["n"]
    xr, yr = refs(n)
    x0, x1 = COLS[p["col"]]
    t, b = ROWS[p["row"]]
    xdom = [x0 / W, x1 / W]
    ydom = [1 - b / H, 1 - t / H]
    xkey = "xaxis" if n == 1 else f"xaxis{n}"
    ykey = "yaxis" if n == 1 else f"yaxis{n}"
    layout_axes[xkey] = dict(
        domain=xdom, range=p["xr"], anchor=yr, showline=True, linecolor="black", linewidth=3,
        mirror="allticks", ticks="inside", ticklen=15, tickwidth=3, tickcolor="black",
        tickmode="array", tickvals=p["xt"], tickformat=p["xfmt"], tickangle=-45,
        ticklabeloverflow="allow",
        tickfont=dict(size=33, family=FONT, color="black"),
        minor=dict(ticks="inside", ticklen=7, tickwidth=2, tickcolor="black",
                   tickmode="linear", tick0=0, dtick=p["xmin"]),
        showgrid=False, zeroline=False, automargin=False)
    layout_axes[ykey] = dict(
        domain=ydom, range=p["yr"], anchor=xr, showline=True, linecolor="black", linewidth=3,
        mirror="allticks", ticks="inside", ticklen=26, tickwidth=3, tickcolor="black",
        tickmode="linear", tick0=0, dtick=p["ydt"], tickformat=p["yfmt"],
        ticklabeloverflow="allow",
        tickfont=dict(size=33, family=FONT, color="black"),
        minor=dict(ticks="inside", ticklen=13, tickwidth=2, tickcolor="black",
                   tickmode="linear", tick0=0, dtick=p["ymin"]),
        showgrid=False, zeroline=False, automargin=False)

    # sky-line bands
    if p["sky"] is not None:
        lo, hi = p["sky"]
        check(f"sky{n}", lo, hi)
        for a, c in zip(lo, hi):
            shapes.append(dict(type="rect", xref=xr, yref=f"{yr} domain", x0=a, x1=c, y0=0, y1=1,
                               fillcolor=C_SKY, line=dict(width=0), layer="below"))

    ox, oy = p["obs"]
    check(f"obs{n}", ox, oy)
    fig.add_trace(line_trace(n, ox, oy, C_OBS, 1.6 if p["top"] else 2.4, p["top"]))
    for color, cx, cy in p["comps"]:
        check(f"comp{n}", cx, cy)
        fig.add_trace(line_trace(n, cx, cy, color, 1.5, True))
    fx, fy = p["fit"]
    check(f"fit{n}", fx, fy)
    fig.add_trace(line_trace(n, fx, fy, C_FIT, 4, True))

    if "bars" in p:
        bx, by = p["bars"]
        xs, ys = [], []
        for v in bx:
            xs += [v, v, None]
            ys += [by[0], by[1], None]
        fig.add_trace(go.Scatter(x=xs, y=ys, mode="lines", line=dict(color="black", width=2.5),
                                 xaxis=xr, yaxis=yr, showlegend=False, hoverinfo="skip"))

    for text, ax_, ay_, ang, fs in p["notes"]:
        annotations.append(dict(text=text, x=ax_, y=ay_, xref=xr, yref=yr, showarrow=False,
                                textangle=ang, xanchor="center", yanchor="middle",
                                font=dict(size=fs, family=FONT, color="black")))


def px(x):
    return x / W


def py(y):
    return 1 - y / H


# axis titles
for txt, x, y, ang in [("Relative flux", 33, 350, -90), ("Relative flux", 33, 945, -90),
                       ("Observed wavelength (\u00c5)", 1358, 652, 0),
                       ("Observed wavelength (\u00b5m)", 1360, 1264, 0)]:
    annotations.append(dict(text=txt, x=px(x), y=py(y), xref="paper", yref="paper", showarrow=False,
                            textangle=ang, xanchor="center", yanchor="middle",
                            font=dict(size=34, family=FONT, color="black")))

# panel letter
annotations.append(dict(text="<b>b</b>", x=px(34), y=py(49), xref="paper", yref="paper", showarrow=False,
                        xanchor="center", yanchor="middle", font=dict(size=38, family=FONT, color="black")))

# legend (manual)
legend_items = [("Observed", C_OBS, 480, 51), ("Broad blueshifted component 1", C_B1, 928, 26),
                ("Broad blueshifted component 2", C_B2, 928, 78), ("Narrow component", C_NAR, 1481, 26),
                ("Total fit", C_FIT, 1481, 78)]
for label, color, lx, ly in legend_items:
    shapes.append(dict(type="line", xref="paper", yref="paper", x0=px(lx), x1=px(lx + 42),
                       y0=py(ly), y1=py(ly), line=dict(color=color, width=6)))
    annotations.append(dict(text=label, x=px(lx + 60), y=py(ly), xref="paper", yref="paper",
                            showarrow=False, xanchor="left", yanchor="middle",
                            font=dict(size=28, family=FONT, color="black")))
for a, c in [(1983, 2008), (2042, 2089), (2133, 2144), (2162, 2173), (2229, 2275)]:
    shapes.append(dict(type="rect", xref="paper", yref="paper", x0=px(a), x1=px(c), y0=py(77), y1=py(25),
                       fillcolor=C_SKY, line=dict(width=0)))
annotations.append(dict(text="Sky lines", x=px(2305), y=py(51), xref="paper", yref="paper", showarrow=False,
                        xanchor="left", yanchor="middle", font=dict(size=28, family=FONT, color="black")))

fig.update_layout(
    width=W, height=H, autosize=False,
    margin=dict(l=0, r=0, t=0, b=0),
    paper_bgcolor="white", plot_bgcolor="white",
    font=dict(family=FONT, color="black"),
    shapes=shapes, annotations=annotations,
    showlegend=False,
    **layout_axes,
)

fig.write_html("out.html")
